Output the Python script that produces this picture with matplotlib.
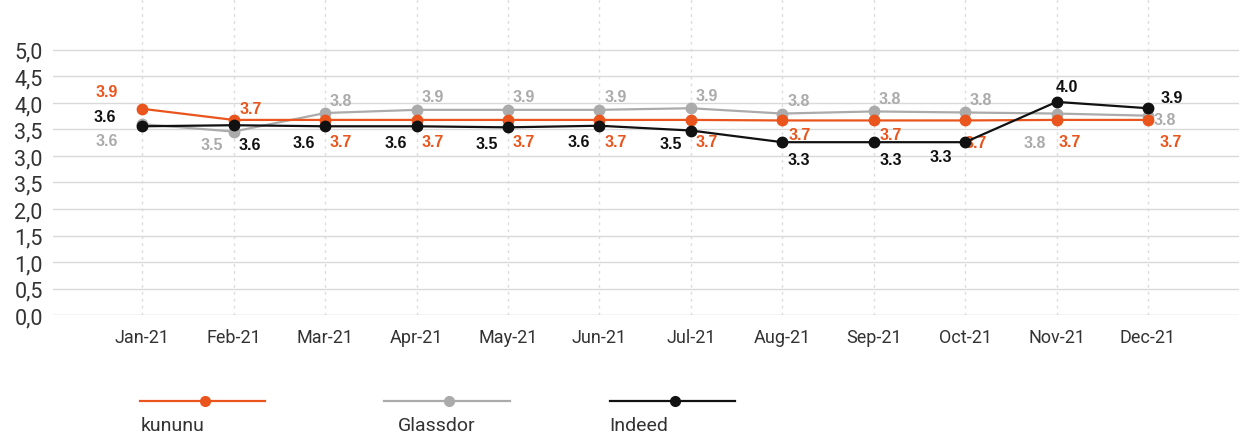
import matplotlib.pyplot as plt
from matplotlib.lines import Line2D

# Data (monthly ratings 2021)
months = ["Jan-21", "Feb-21", "Mar-21", "Apr-21", "May-21", "Jun-21",
          "Jul-21", "Aug-21", "Sep-21", "Oct-21", "Nov-21", "Dec-21"]
kununu = [3.89, 3.68, 3.68, 3.68, 3.68, 3.68, 3.68, 3.67, 3.67, 3.67, 3.68, 3.68]
glassdor = [3.60, 3.46, 3.81, 3.87, 3.87, 3.87, 3.90, 3.80, 3.84, 3.82, 3.80, 3.76]
indeed = [3.56, 3.58, 3.56, 3.56, 3.54, 3.57, 3.48, 3.26, 3.26, 3.26, 4.02, 3.90]
ytick_vals = [0, 0.5, 1, 1.5, 2, 2.5, 3, 3.5, 4, 4.5, 5]
ytick_labels = ["0,0", "0,5", "1,0", "1,5", "2,0", "3,5", "3,0", "3,5", "4,0", "4,5", "5,0"]

# label offsets in pixels (dx, dy) for each point
off_kununu = [(-35, 17), (17, 11)] + [(16, -22)] * 5 + [(17, -14), (17, -14), (11, -22), (13, -22), (23, -22)]
off_glassdor = [(-35, -16), (-22, -13)] + [(16, 13)] * 8 + [(-22, -29), (17, -4)]
off_indeed = [(-37, 10), (16, -19)] + [(-21, -16)] * 4 + [(-20, -13), (17, -17), (17, -17), (-24, -14), (10, 15), (24, 11)]

orange = "#E9551C"
gray = "#ABABAB"
black = "#111111"
txt = "#333333"
cond = ["Roboto", "DejaVu Sans"]

fig = plt.figure(figsize=(12.52, 4.39), dpi=100)
ax = fig.add_axes([0.042, 0.28, 0.948, 0.72])
x = list(range(len(months)))

series = [("Glassdor", glassdor, gray, off_glassdor),
          ("kununu", kununu, orange, off_kununu),
          ("Indeed", indeed, black, off_indeed)]
for name, vals, col, offs in series:
    ax.plot(x, vals, color=col, lw=1.6, marker="o", ms=7.5, zorder=3, clip_on=False)
    for xi, v, (dx, dy) in zip(x, vals, offs):
        ax.annotate(f"{v:.1f}", (xi, v), xytext=(dx, dy), textcoords="offset pixels",
                    ha="center", va="center", color=col, fontsize=11.5,
                    fontweight="bold", family="Liberation Sans")

ax.set_xlim(-0.98, 12)
ax.set_ylim(0, 5.96)
ax.set_yticks(ytick_vals)
ax.set_yticklabels(ytick_labels, family=cond, fontsize=15.5, color=txt)
ax.set_xticks(x)
ax.set_xticklabels(months, family=cond, fontsize=13, color=txt)
ax.tick_params(axis="both", length=0)
ax.tick_params(axis="y", pad=7)
ax.tick_params(axis="x", pad=9)

for yv in ytick_vals:
    ax.axhline(yv, color="#C8C8C8" if yv == 0 else "#D9D9D9", lw=1, zorder=1)
for xi in x:
    ax.axvline(xi, color="#DCDCDC", lw=1, ls=(0, (2, 3)), zorder=0)
for s in ax.spines.values():
    s.set_visible(False)

# legend drawn below the plot: handle line with text beneath
legend_items = [("kununu", orange, 0.112, 0.112), ("Glassdor", gray, 0.307, 0.318),
                ("Indeed", black, 0.487, 0.487)]
for name, col, lx, tx in legend_items:
    fig.add_artist(Line2D([lx, lx + 0.1], [0.085, 0.085], color=col, lw=1.6,
                          transform=fig.transFigure))
    fig.add_artist(Line2D([lx + 0.052], [0.085], color=col, marker="o", ms=7,
                          transform=fig.transFigure))
    fig.text(tx, 0.03, name, family=cond, fontsize=14, color=txt,
             ha="left", va="center")

fig.savefig("out.png", dpi=100, facecolor="white")
